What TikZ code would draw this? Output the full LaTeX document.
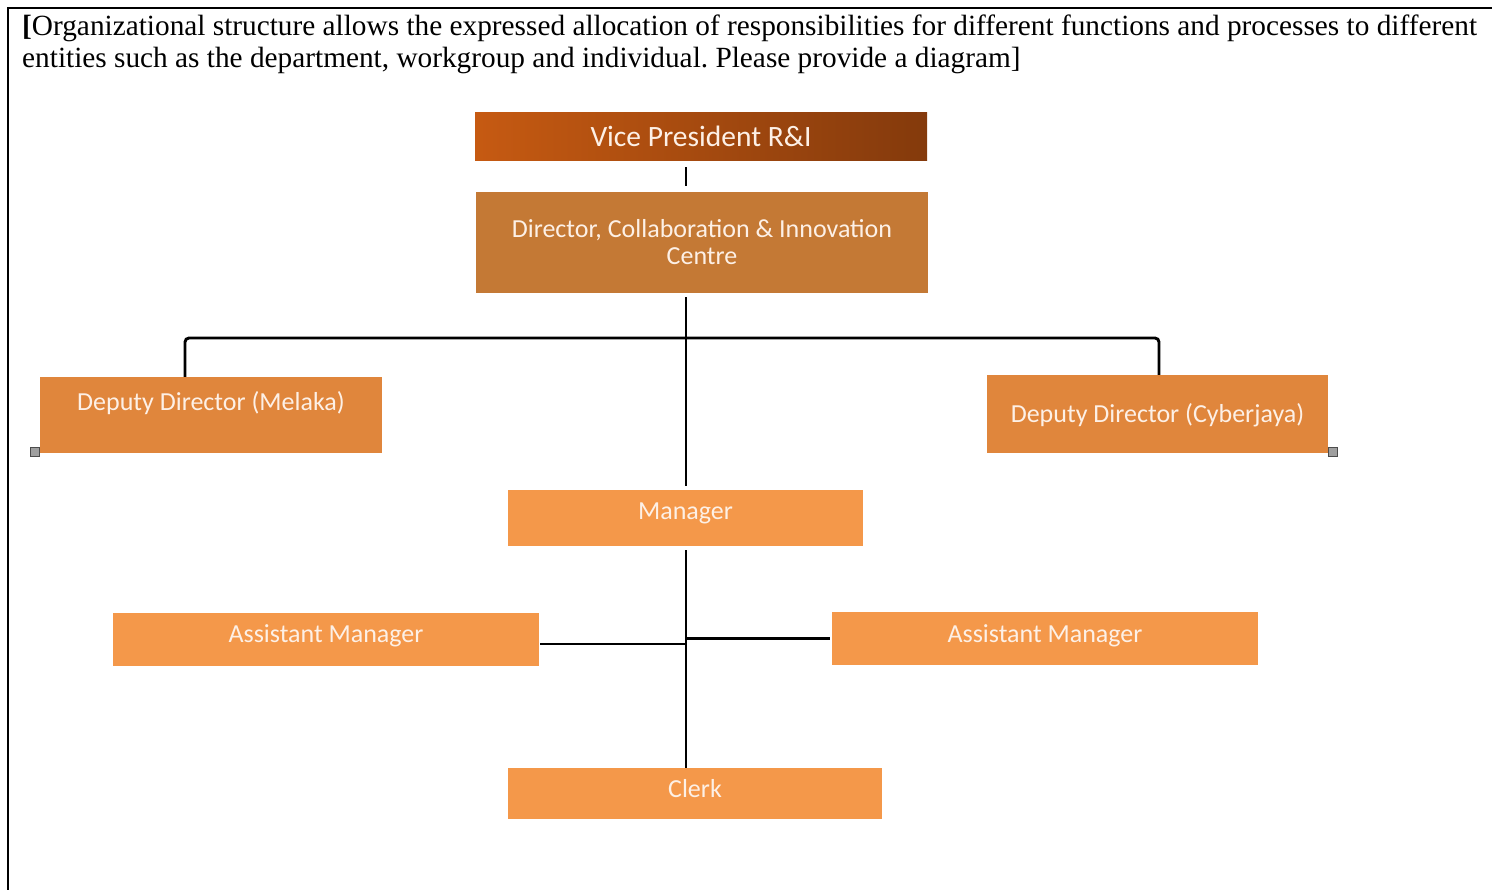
\documentclass[tikz,border=0pt]{standalone}
\usepackage{fontspec}
\setmainfont{Liberation Serif}
\newfontfamily\calfont{Carlito}
\usetikzlibrary{calc}
\definecolor{vpL}{HTML}{C65A12}
\definecolor{vpR}{HTML}{843A0C}
\definecolor{dirC}{HTML}{C47935}
\definecolor{depC}{HTML}{E0863C}
\definecolor{lowC}{HTML}{F4984A}
\definecolor{txtC}{HTML}{FDF0E6}
\frenchspacing
\begin{document}
\begin{tikzpicture}[x=1pt,y=-1pt,
  box/.style={rectangle, inner sep=0pt, text=txtC, align=center,
    font=\fontsize{26}{27}\selectfont\calfont},
  oneline/.style={text height=16.7pt, text depth=#1},
  conn/.style={draw=black, line width=2.9pt},
  handle/.style={rectangle, inner sep=0pt, minimum size=9pt, fill=gray!75, draw=gray!60!black, line width=0.6pt},
  hdr/.style={anchor=base west, inner sep=0pt, font=\fontsize{29.3}{32}\selectfont}]
\useasboundingbox (0,0) rectangle (1492,890);
% frame
\draw[line width=2.2pt] (8,890) -- (8,8) -- (1492,8);
% header
\node[hdr] (h1) at (22,36) {\textbf{[}Organizational structure allows the expressed allocation of responsibilities for different functions and processes to different};
\node[hdr] (h2) at (22,68) {entities such as the department, workgroup and individual. Please provide a diagram]};
% boxes
\node[box, minimum width=452pt, minimum height=48pt, left color=vpL, right color=vpR,
  font=\fontsize{29.5}{30}\selectfont\calfont, text height=19pt, text depth=0pt] (vp) at (701,137) {Vice President R\&I};
\node[box, minimum width=452pt, minimum height=101pt, fill=dirC] (dir) at (702,242.5) {Director, Collaboration \& Innovation\\Centre};
\node[box, oneline=26pt, minimum width=342pt, minimum height=76pt, fill=depC] (dml) at (211,415) {Deputy Director (Melaka)};
\node[box, oneline=0pt, minimum width=341pt, minimum height=78pt, fill=depC] (dcy) at (1157.5,414) {Deputy Director (Cyberjaya)};
\node[box, oneline=13pt, minimum width=355pt, minimum height=56pt, fill=lowC] (mgr) at (685.5,518) {Manager};
\node[box, oneline=10pt, minimum width=426pt, minimum height=53pt, fill=lowC] (aml) at (326,639.5) {Assistant Manager};
\node[box, oneline=9pt, minimum width=426pt, minimum height=53pt, fill=lowC] (amr) at (1045,638.5) {Assistant Manager};
\node[box, oneline=9pt, minimum width=374pt, minimum height=51pt, fill=lowC] (clk) at (695,793.5) {Clerk};
% handles
\node[handle] (sqL) at (35,452) {};
\node[handle] (sqR) at (1333,452) {};
% connectors
\coordinate (trunk) at (686,338);
\draw[conn, shorten <=6pt, shorten >=6pt] (vp.south -| trunk) -- (dir.north -| trunk);
\draw[conn, shorten <=4pt, shorten >=4pt] (dir.south -| trunk) -- (mgr.north -| trunk);
\draw[conn, rounded corners=4pt] ([xshift=-26pt]dml.north) |- (trunk) -| ([xshift=1.5pt]dcy.north);
\draw[conn, shorten <=4pt] (mgr.south -| trunk) -- (clk.north -| trunk);
\draw[conn, shorten <=1pt] ([yshift=-4.5pt]aml.east) -- ([yshift=-4.5pt]aml.east -| trunk);
\draw[conn, shorten <=2pt] (amr.west) -- (amr.west -| trunk);
\end{tikzpicture}
\end{document}
